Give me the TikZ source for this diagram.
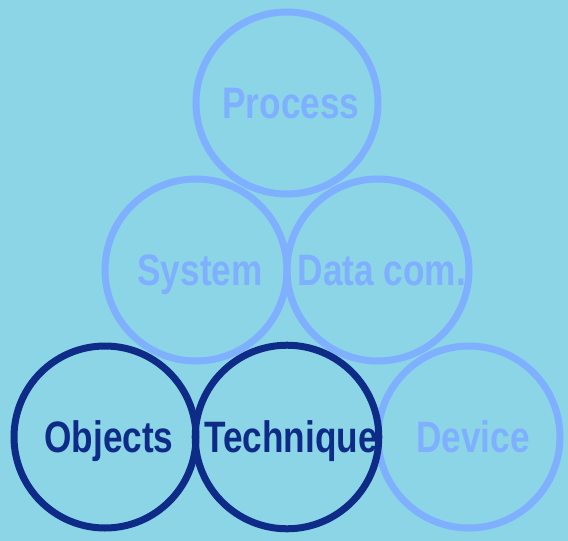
\documentclass[tikz,border=0pt]{standalone}
\usepackage{fontspec}
\setmainfont{Liberation Sans}[FakeStretch=0.8]
\definecolor{bg}{RGB}{139,213,230}
\definecolor{lite}{RGB}{127,176,255}
\definecolor{dark}{RGB}{14,44,135}
\begin{document}
\begin{tikzpicture}[x=1pt,y=-1pt,
  ring/.style={circle,draw,line width=7pt,minimum size=182pt,inner sep=0pt,
    text height=31pt,text depth=0pt,
    font=\fontsize{44}{44}\selectfont\bfseries},
  liteRing/.style={ring,draw=lite,text=lite},
  darkRing/.style={ring,draw=dark,text=dark}]
\fill[bg] (0,0) rectangle (568,541);
\useasboundingbox (0,0) rectangle (568,541);
\node[liteRing] (process) at (287,103) {\hspace{8pt}Process};
\node[liteRing] (system) at (196,270) {\hspace{8pt}System};
\node[liteRing] (datacom) at (378,270) {\hspace{8pt}Data com.};
\node[liteRing] (device) at (469,437) {\hspace{8pt}Device};
\node[darkRing] (objects) at (105,437) {\hspace{8pt}Objects};
\node[darkRing] (technique) at (287,437) {\hspace{8pt}Technique};
\end{tikzpicture}
\end{document}
